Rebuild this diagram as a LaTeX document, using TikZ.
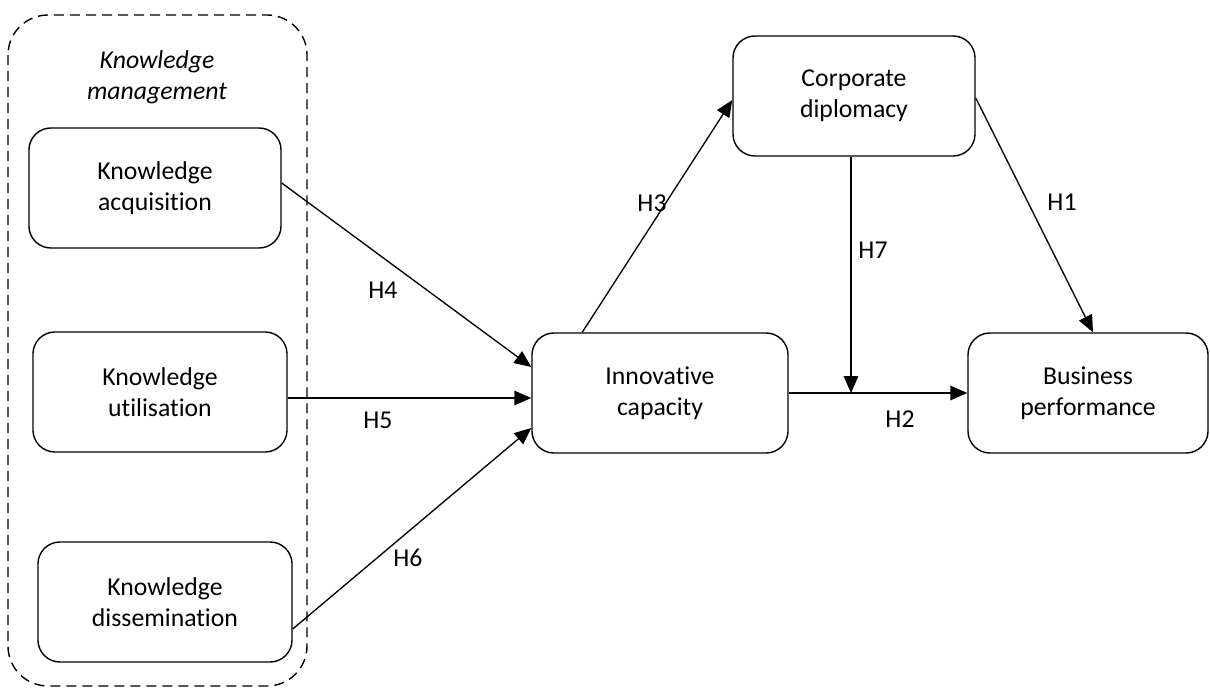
\documentclass[tikz,border=0pt]{standalone}
\usepackage{fontspec}
\setmainfont{Carlito}[Ligatures=NoCommon]
\usepackage{xcolor}
\usetikzlibrary{arrows.meta,positioning,calc}
\definecolor{ink}{HTML}{000000}

\begin{document}
\begin{tikzpicture}[x=0.025cm, y=-0.025cm,
  txt/.style={font=\fontsize{18.3}{22}\selectfont, text=ink},
  box/.style={txt, draw=ink, line width=1pt, rounded corners=0.55cm,
              minimum width=6.35cm, minimum height=3cm, align=center},
  link/.style={draw=ink, line width=0.95pt, -{Triangle[length=0.42cm, width=0.36cm]}}]
 \useasboundingbox (0,0) rectangle (1210,688);
 \fill[white] (0,0) rectangle (1210,688);
 \draw[ink, line width=1pt, dash pattern=on 0.25cm off 0.15cm, rounded corners=1cm]
   (8,15) rectangle (307,686);
 \node[txt, align=center, font=\fontsize{18.3}{22}\selectfont\itshape] (km) at (157,77)
   {Knowledge\\management};
 \node[box, minimum width=6.3cm] (ka) at (155,188) {Knowledge\\acquisition};
 \node[box] (ku) at (160,392) {Knowledge\\utilisation};
 \node[box] (kd) at (165,602) {Knowledge\\dissemination};
 \node[box, minimum width=6.4cm] (ic) at (660,393) {Innovative\\capacity};
 \node[box, minimum width=6.05cm] (cd) at (854,96) {Corporate\\diplomacy};
 \node[box, minimum width=6cm] (bp) at (1088,393) {Business\\performance};
 \draw[link] ($(ka.east)+(0,-5)$) -- ($(ic.west)+(0,-26)$);
 \draw[link] ($(ku.east)+(0,6)$) -- ($(ic.west)+(0,5)$);
 \draw[link] ($(kd.east)+(0,27)$) -- ($(ic.west)+(0,35)$);
 \draw[link] ($(ic.north west)+(51,0)$) -- ($(cd.west)+(0,4)$);
 \draw[link] ($(cd.east)+(0,2)$) -- ($(bp.north)+(5,0)$);
 \draw[link] (ic.east) -- (bp.west);
 \coordinate (h7top) at ($(cd.south)+(-3,0)$);
 \draw[link] (h7top) -- (h7top |- ic.east);
 \node[txt] (h1) at (1062,202) {H1};
 \node[txt] (h2) at (900,419) {H2};
 \node[txt] (h3) at (652,203) {H3};
 \node[txt] (h4) at (383,290) {H4};
 \node[txt] (h5) at (378,420) {H5};
 \node[txt] (h6) at (408,558) {H6};
 \node[txt] (h7) at (873,250) {H7};
\end{tikzpicture}
\end{document}
